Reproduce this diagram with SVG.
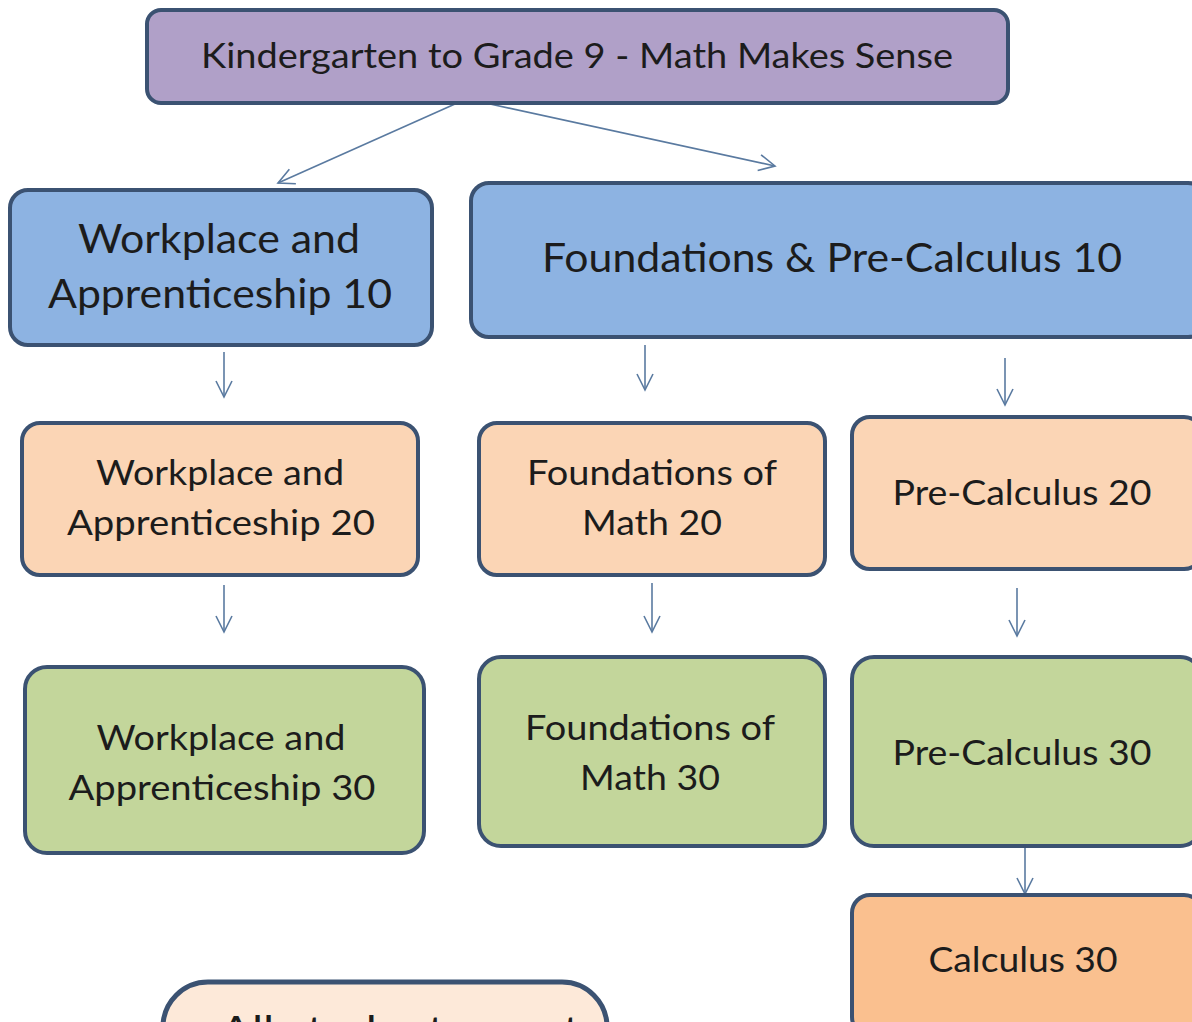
<svg xmlns="http://www.w3.org/2000/svg" width="1192" height="1022" viewBox="0 0 1192 1022">
<defs>
<style>
.box{stroke:#3B5272;stroke-width:4}
.t{font-family:Lato,"Open Sans","Liberation Sans",sans-serif;fill:#1c1c1c;text-anchor:middle}
.c{stroke:#5A7AA0;stroke-width:1.6;fill:none}
</style>
<marker id="ah" viewBox="0 0 20 20" refX="18" refY="10" markerWidth="20" markerHeight="20" markerUnits="userSpaceOnUse" orient="auto">
<path d="M2,2 L18,10 L2,18" fill="none" stroke="#5A7AA0" stroke-width="1.6"/>
</marker>
</defs>
<rect width="1192" height="1022" fill="#ffffff"/>
<g id="connectors">
<line class="c" x1="455" y1="104" x2="278" y2="183" marker-end="url(#ah)"/>
<line class="c" x1="490" y1="104" x2="775" y2="166" marker-end="url(#ah)"/>
<line class="c" x1="224" y1="352" x2="224" y2="397" marker-end="url(#ah)"/>
<line class="c" x1="645" y1="345" x2="645" y2="390" marker-end="url(#ah)"/>
<line class="c" x1="1005" y1="358" x2="1005" y2="405" marker-end="url(#ah)"/>
<line class="c" x1="224" y1="585" x2="224" y2="632" marker-end="url(#ah)"/>
<line class="c" x1="652" y1="583" x2="652" y2="632" marker-end="url(#ah)"/>
<line class="c" x1="1017" y1="588" x2="1017" y2="636" marker-end="url(#ah)"/>
<line class="c" x1="1025" y1="846" x2="1025" y2="894" marker-end="url(#ah)"/>
</g>
<g id="k9">
<rect class="box" x="147" y="10" width="861" height="93" rx="14" fill="#B0A0C8"/>
<text class="t" x="577" y="68" font-size="35" textLength="752" lengthAdjust="spacingAndGlyphs">Kindergarten to Grade 9 - Math Makes Sense</text>
</g>
<g id="wa10">
<rect class="box" x="10" y="190" width="422" height="155" rx="18" fill="#8DB3E2"/>
<text class="t" x="219" y="253" font-size="41" textLength="282" lengthAdjust="spacingAndGlyphs">Workplace and</text>
<text class="t" x="220" y="308" font-size="41" textLength="344" lengthAdjust="spacingAndGlyphs">Apprenticeship 10</text>
</g>
<g id="fpc10">
<rect class="box" x="471" y="183" width="735" height="154" rx="18" fill="#8DB3E2"/>
<text class="t" x="832" y="272" font-size="40" textLength="580" lengthAdjust="spacingAndGlyphs">Foundations &amp; Pre-Calculus 10</text>
</g>
<g id="wa20">
<rect class="box" x="22" y="423" width="396" height="152" rx="18" fill="#FBD5B5"/>
<text class="t" x="220" y="485" font-size="35" textLength="248" lengthAdjust="spacingAndGlyphs">Workplace and</text>
<text class="t" x="221" y="535" font-size="35" textLength="308" lengthAdjust="spacingAndGlyphs">Apprenticeship  20</text>
</g>
<g id="fm20">
<rect class="box" x="479" y="423" width="346" height="152" rx="18" fill="#FBD5B5"/>
<text class="t" x="652" y="485" font-size="35" textLength="250" lengthAdjust="spacingAndGlyphs">Foundations of</text>
<text class="t" x="652" y="535" font-size="35" textLength="140" lengthAdjust="spacingAndGlyphs">Math 20</text>
</g>
<g id="pc20">
<rect class="box" x="852" y="417" width="350" height="152" rx="18" fill="#FBD5B5"/>
<text class="t" x="1022" y="505" font-size="35" textLength="259" lengthAdjust="spacingAndGlyphs">Pre-Calculus  20</text>
</g>
<g id="wa30">
<rect class="box" x="25" y="667" width="399" height="186" rx="22" fill="#C3D69B"/>
<text class="t" x="221" y="750" font-size="35" textLength="249" lengthAdjust="spacingAndGlyphs">Workplace and</text>
<text class="t" x="222" y="800" font-size="35" textLength="307" lengthAdjust="spacingAndGlyphs">Apprenticeship  30</text>
</g>
<g id="fm30">
<rect class="box" x="479" y="657" width="346" height="189" rx="22" fill="#C3D69B"/>
<text class="t" x="650" y="740" font-size="35" textLength="250" lengthAdjust="spacingAndGlyphs">Foundations of</text>
<text class="t" x="650" y="790" font-size="35" textLength="140" lengthAdjust="spacingAndGlyphs">Math 30</text>
</g>
<g id="pc30">
<rect class="box" x="852" y="657" width="350" height="189" rx="22" fill="#C3D69B"/>
<text class="t" x="1022" y="765" font-size="35" textLength="259" lengthAdjust="spacingAndGlyphs">Pre-Calculus  30</text>
</g>
<g id="calc30">
<rect class="box" x="852" y="895" width="350" height="140" rx="18" fill="#FAC08F"/>
<text class="t" x="1023" y="972" font-size="35" textLength="189" lengthAdjust="spacingAndGlyphs">Calculus 30</text>
</g>
<g id="allstudents">
<rect x="163" y="982" width="444" height="120" rx="45" fill="#FDE9D9" stroke="#3B5272" stroke-width="5"/>
<text class="t" x="400" y="1045" font-size="40" textLength="360" lengthAdjust="spacingAndGlyphs">All students must</text>
</g>
</svg>
